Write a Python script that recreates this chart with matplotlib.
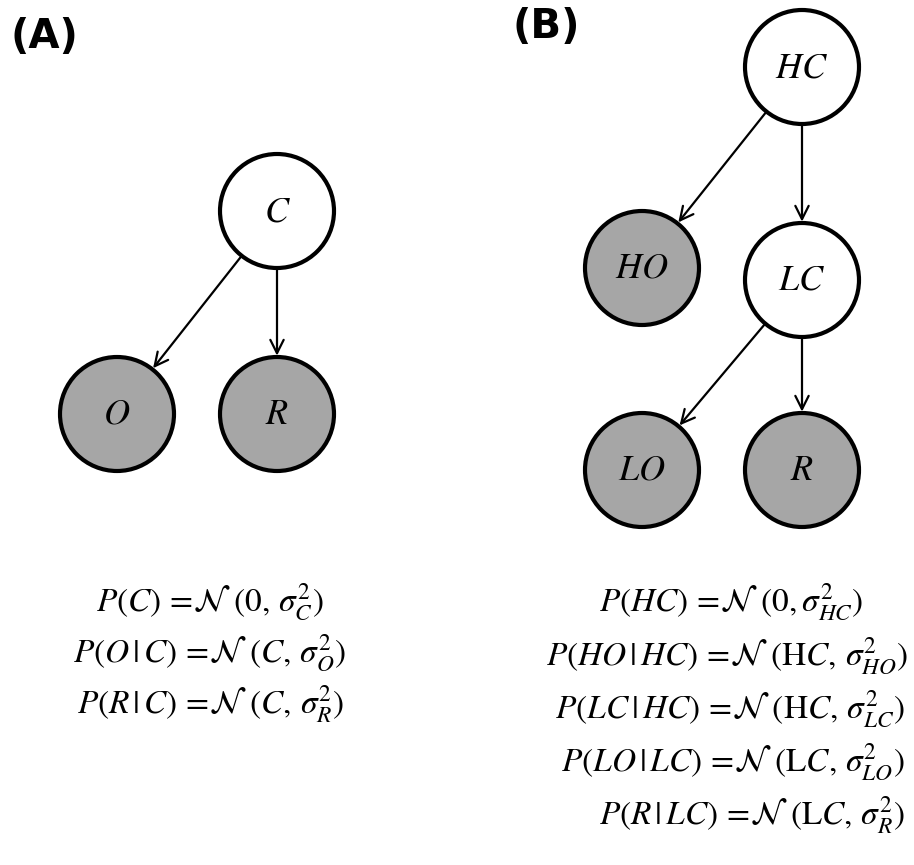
import matplotlib.pyplot as plt
from matplotlib.patches import Circle

plt.rcParams['mathtext.fontset'] = 'stix'

# Nodes: name, center x, center y (pixels), observed?
nodos = ["C", "O", "R1", "HC", "HO", "LC", "LO", "R2"]
etiquetas = ["C", "O", "R", "HC", "HO", "LC", "LO", "R"]
pos_x = [277, 117, 277, 802, 642, 802, 642, 802]
pos_y = [211, 414, 414, 67, 268, 280, 470, 470]
observado = [False, True, True, False, True, False, True, True]

# Edges
aristas = [("C", "O"), ("C", "R1"), ("HC", "HO"), ("HC", "LC"), ("LC", "LO"), ("LC", "R2")]

# Formulas
formulas_a = [
    r"$P(C)\,=\!\mathcal{N}\ (0,\,\sigma_C^2)$",
    r"$P(O\,|\,C)\,=\!\mathcal{N}\ (C,\,\sigma_O^2)$",
    r"$P(R\,|\,C)\,=\!\mathcal{N}\ (C,\,\sigma_R^2)$",
]
formulas_b = [
    r"$P(HC)\,=\!\mathcal{N}\ (0,\sigma_{HC}^2)$",
    r"$P(HO\,|\,HC)\,=\!\mathcal{N}\ (\mathrm{H}C,\,\sigma_{HO}^2)$",
    r"$P(LC\,|\,HC)\,=\!\mathcal{N}\ (\mathrm{H}C,\,\sigma_{LC}^2)$",
    r"$P(LO\,|\,LC)\,=\!\mathcal{N}\ (\mathrm{L}C,\,\sigma_{LO}^2)$",
    r"$P(R\,|\,LC)\,=\!\mathcal{N}\ (\mathrm{L}C,\,\sigma_R^2)$",
]

fig = plt.figure(figsize=(9.14, 8.65), dpi=100)
ax = fig.add_axes([0, 0, 1, 1])
ax.set_xlim(0, 914)
ax.set_ylim(865, 0)
ax.axis("off")

radio = 57
centros = {}
for n, e, x, y, obs in zip(nodos, etiquetas, pos_x, pos_y, observado):
    centros[n] = (x, y)
    ax.add_patch(Circle((x, y), radio, facecolor="#a6a6a6" if obs else "white",
                        edgecolor="black", linewidth=3, zorder=2))
    ax.text(x, y, "$" + e + "$", fontsize=26, ha="center", va="center", zorder=3)

for a, b in aristas:
    xa, ya = centros[a]
    xb, yb = centros[b]
    ax.annotate("", xy=(xb, yb), xytext=(xa, ya),
                arrowprops=dict(arrowstyle="->", color="black", lw=1.6,
                                mutation_scale=24, shrinkA=42, shrinkB=42))

# Panel labels
ax.text(10, 37, "(A)", fontsize=29, fontweight="bold", ha="left", va="center")
ax.text(512, 27, "(B)", fontsize=29, fontweight="bold", ha="left", va="center")

for i, f in enumerate(formulas_a):
    ax.text(210, 602 + i * 51, f, fontsize=24, ha="center", va="center")

derecha_b = [863, 908, 905, 905, 905]
for i, f in enumerate(formulas_b):
    ax.text(derecha_b[i], 602 + i * 53.3, f, fontsize=24, ha="right", va="center")

fig.savefig("out.png", dpi=100)
